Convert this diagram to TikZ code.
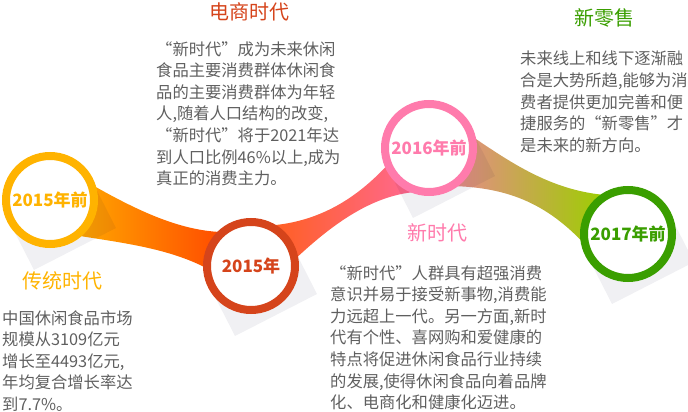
\documentclass[tikz,border=0pt]{standalone}
\usepackage{fontspec}
\setmainfont{Noto Sans CJK SC}
\usetikzlibrary{positioning}
\definecolor{cyel}{HTML}{FFB300}
\definecolor{cred}{HTML}{D5441B}
\definecolor{cpink}{HTML}{FF7BAC}
\definecolor{cgrn}{HTML}{3A9E00}
\definecolor{ctxt}{HTML}{5F5F5F}

\begin{document}
\begin{tikzpicture}[x=1pt, y=-1pt,
  ring/.style={circle, fill=white, line width=8pt, minimum size=88pt, inner sep=0pt, font=\fontsize{17}{17}\selectfont\bfseries},
  ttl/.style={inner sep=0pt, font=\fontsize{20}{20}\selectfont},
  body/.style={anchor=north west, align=left, inner sep=0pt, text=ctxt, font=\fontsize{16.3}{21.6}\selectfont},
  shd/.style={fill=blue!20!black, opacity=0.06}]
            \useasboundingbox (0,0) rectangle (688,412);
            \shade[left color=orange!70!yellow, right color=orange!60!red] (94,186) .. controls (140,212) and (180,230) .. (220,232) -- (220,276) .. controls (180,250) and (130,244) .. (80,236) -- cycle;
            \shade[left color=red!40!orange!90!white, right color=cpink!85!red] (262,226) .. controls (320,224) and (360,196) .. (392,160) -- (415,192) .. controls (370,196) and (330,226) .. (292,262) -- cycle;
            \shade[left color=cpink!60!brown!90, middle color=orange!50!olive!70!white, right color=cgrn!50!yellow] (470,135) .. controls (510,162) and (550,190) .. (605,195) -- (590,250) .. controls (550,205) and (510,187) .. (450,186) -- cycle;
            \foreach \p in {(50,200),(251,266),(429,148),(628,234)}
                \fill[shd, shift={\p}] (-41,21) -- (-16,70) -- (66,28) -- (41,-21) -- cycle;
            \node[ring, draw=cyel, text=cyel] (c1) at (50,200) {2015年前};
            \node[ring, draw=cred, text=cred] (c2) at (251,266) {2015年};
            \node[ring, draw=cpink, text=cpink] (c3) at (429,148) {2016年前};
            \node[ring, draw=cgrn, text=cgrn] (c4) at (628,234) {2017年前};
            \node[ttl, text=cyel] (t1) at (62,281) {传统时代};
            \node[ttl, text=cred] (t2) at (249,12) {电商时代};
            \node[ttl, text=cpink] (t3) at (437,233) {新时代};
            \node[ttl, text=cgrn] (t4) at (604,18) {新零售};
            \node[body] (b1) at (2,310) {中国休闲食品市场\\规模从3109亿元\\增长至4493亿元,\\年均复合增长率达\\到7.7\%。};
            \node[body] (b2) at (156,41) {“新时代”成为未来休闲\\食品主要消费群体休闲食\\品的主要消费群体为年轻\\人,随着人口结构的改变,\\“新时代”将于2021年达\\到人口比例46\%以上,成为\\真正的消费主力。};
            \node[body] (b3) at (330,265) {“新时代”人群具有超强消费\\意识并易于接受新事物,消费能\\力远超上一代。另一方面,新时\\代有个性、喜网购和爱健康的\\特点将促进休闲食品行业持续\\的发展,使得休闲食品向着品牌\\化、电商化和健康化迈进。};
            \node[body] (b4) at (520,51) {未来线上和线下逐渐融\\合是大势所趋,能够为消\\费者提供更加完善和便\\捷服务的“新零售”才\\是未来的新方向。};
        \end{tikzpicture}
\end{document}
